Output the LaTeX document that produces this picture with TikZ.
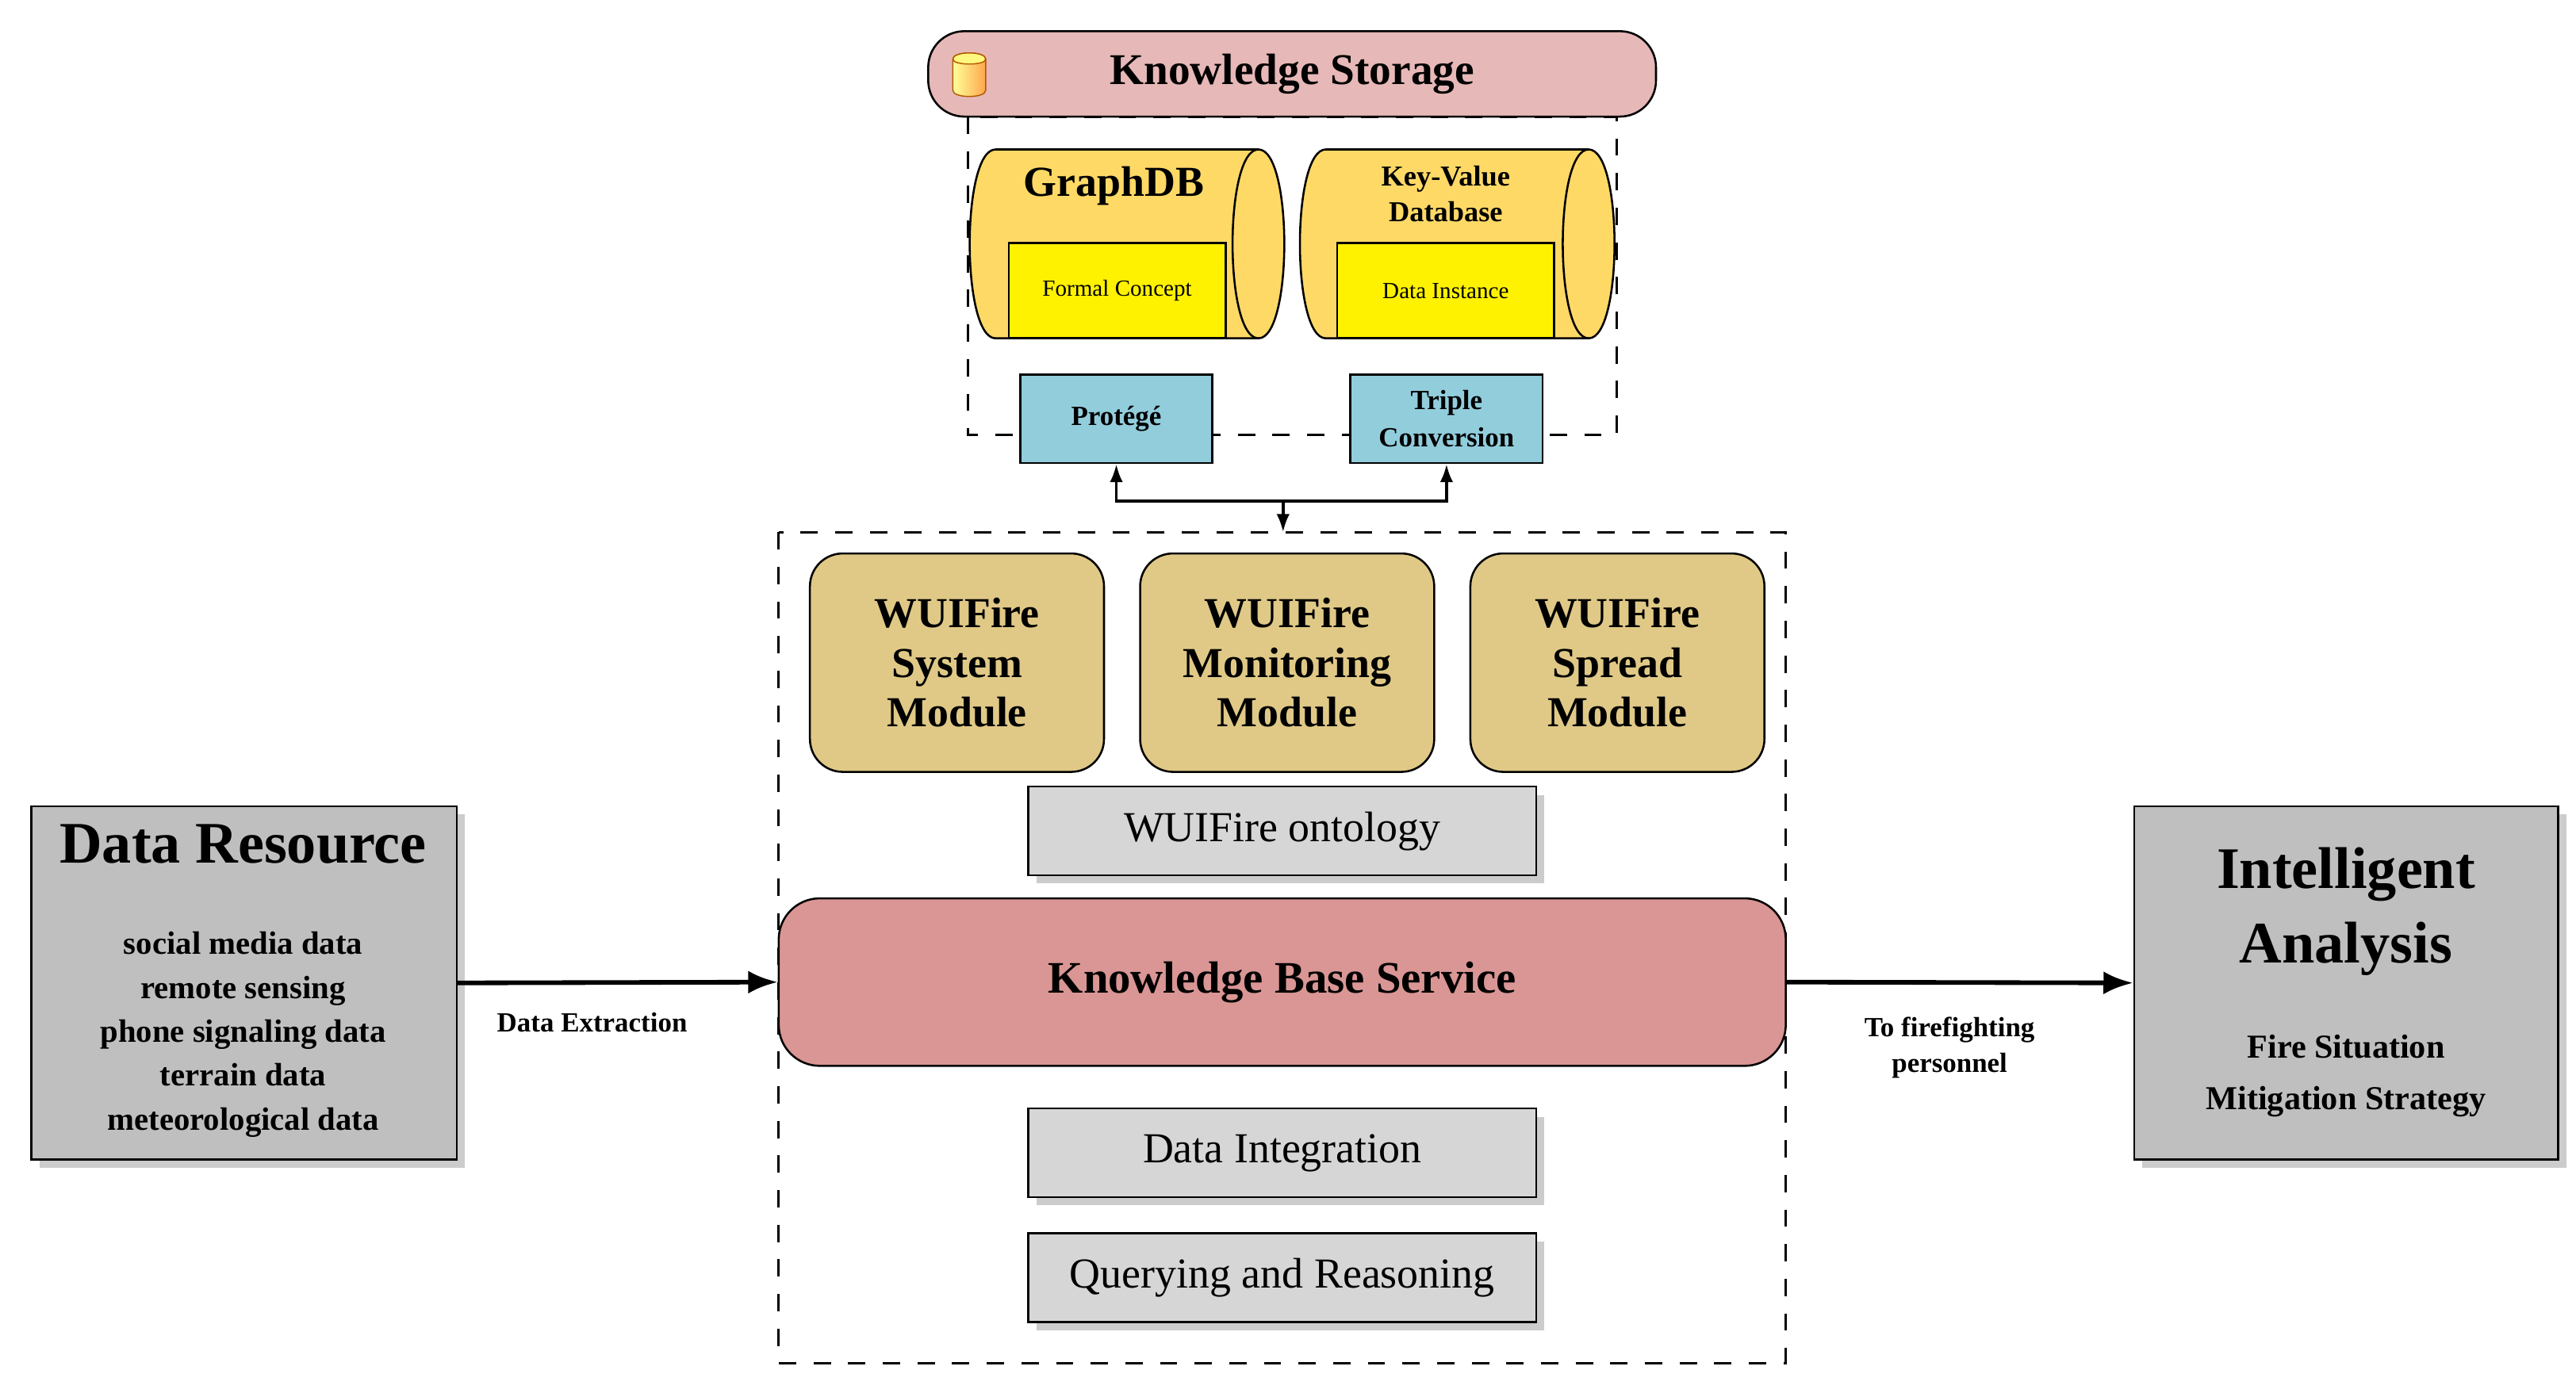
\documentclass[tikz,border=0pt]{standalone}
\usepackage{fontspec}
\setmainfont{Liberation Serif}
\usetikzlibrary{shadows,arrows.meta}
\begin{document}
\begin{tikzpicture}[x=0.1mm,y=-0.1mm,
  box/.style={draw=black,line width=0.35pt,inner sep=0pt,align=center},
  gray/.style={box,fill=black!25,drop shadow={shadow xshift=0.5mm,shadow yshift=-0.5mm,opacity=0.4}},
  module/.style={box,fill=modc,rounded corners=2mm,minimum width=17.9mm,minimum height=13.3mm,font=\fontsize{7.4pt}{8.6pt}\selectfont\bfseries},
  sub/.style={box,fill=black!16,minimum width=30.9mm,minimum height=5.4mm,font=\fontsize{7.4pt}{8pt}\selectfont,drop shadow={shadow xshift=0.5mm,shadow yshift=-0.5mm,opacity=0.4}},
  tool/.style={box,fill=toolc,minimum width=11.7mm,minimum height=5.4mm,font=\fontsize{4.8pt}{6.4pt}\selectfont\bfseries},
  cyl/.style={draw=black,line width=0.35pt,fill=dbc},
  inner/.style={box,fill=yellow,minimum width=13.2mm,minimum height=5.8mm,font=\fontsize{4pt}{5pt}\selectfont},
  arr/.style={-{Latex[length=1.8mm,width=1.4mm]},line width=0.8pt},
  sarr/.style={-{Latex[length=1.1mm,width=0.8mm]},line width=0.5pt}]
\definecolor{modc}{HTML}{E0C987}
\definecolor{toolc}{HTML}{92CDDC}
\definecolor{dbc}{HTML}{FFD966}
\definecolor{ksc}{HTML}{E6B8B7}
\definecolor{kbc}{HTML}{D99694}
\useasboundingbox (0,0) rectangle (1568,848);
% knowledge storage
\draw[dashed,line width=0.4pt] (589,71) rectangle (984,265);
\node[box,fill=ksc,rounded corners=2.2mm,minimum width=44.3mm,minimum height=5.2mm,font=\fontsize{7.6pt}{9pt}\selectfont\bfseries] (ks) at (786.5,45) {Knowledge Storage};
% icon
\path[draw=orange!70!black,line width=0.2pt,top color=yellow!40,bottom color=orange!70,shading angle=90]
  (580,36) -- (580,55) .. controls (580,60) and (600,60) .. (600,55) -- (600,36) .. controls (600,31) and (580,31) .. (580,36) -- cycle;
\draw[orange!70!black,line width=0.2pt,fill=yellow!50] (580,36) .. controls (580,40) and (600,40) .. (600,36) .. controls (600,31) and (580,31) .. (580,36);
% cylinders
\foreach \xo/\nm in {0/g,201/k}{
  \begin{scope}[xshift=\xo*0.1mm]
  \path[cyl] (606,91) -- (766,91) .. controls (787,91) and (787,206) .. (766,206) -- (606,206) .. controls (585,206) and (585,91) .. (606,91) -- cycle;
  \draw[line width=0.35pt] (766,91) .. controls (745,91) and (745,206) .. (766,206);
  \end{scope}}
\node[font=\fontsize{7.4pt}{8pt}\selectfont\bfseries] (gt) at (678,113) {GraphDB};
\node[font=\fontsize{5pt}{6.2pt}\selectfont\bfseries,align=center] (kt) at (880,118) {Key-Value\\Database};
\node[inner] (fc) at (680,177) {Formal Concept};
\node[inner] (di) at (880,177) {Data Instance};
\node[tool] (pr) at (679.5,255) {Protégé};
\node[tool] (tc) at (880.5,255) {Triple\\Conversion};
% middle
\draw[dashed,line width=0.4pt] (474,324) rectangle (1087,830);
\coordinate (j) at (781,305);
\coordinate (mt) at (781,324);
\draw[sarr] (j) -- (j -| pr.south) -- (pr.south);
\draw[sarr] (j) -- (j -| tc.south) -- (tc.south);
\draw[sarr] (j) -- (mt);
\node[module] (m1) at (582.5,403.5) {WUIFire\\System\\Module};
\node[module] (m2) at (783.5,403.5) {WUIFire\\Monitoring\\Module};
\node[module] (m3) at (984.5,403.5) {WUIFire\\Spread\\Module};
\node[sub] (on) at (780.5,506) {WUIFire ontology};
\node[box,fill=kbc,rounded corners=2.5mm,minimum width=61.3mm,minimum height=10.2mm,font=\fontsize{7.8pt}{9pt}\selectfont\bfseries] (kb) at (780.5,598) {Knowledge Base Service};
\node[sub] (dint) at (780.5,702) {Data Integration};
\node[sub] (qr) at (780.5,778) {Querying and Reasoning};
% sides
\node[gray,minimum width=25.9mm,minimum height=21.5mm] (dr) at (148.5,598.5) {};
\node[font=\fontsize{10.2pt}{12pt}\selectfont\bfseries] (drt) at (148,514) {Data Resource};
\node[font=\fontsize{5.6pt}{7.6pt}\selectfont\bfseries,align=center] (drl) at (148,630) {social media data\\remote sensing\\phone signaling data\\terrain data\\meteorological data};
\node[gray,minimum width=25.8mm,minimum height=21.5mm] (ia) at (1428,598.5) {};
\node[font=\fontsize{10.2pt}{13pt}\selectfont\bfseries,align=center] (iat) at (1428,555) {Intelligent\\Analysis};
\node[font=\fontsize{5.8pt}{9pt}\selectfont\bfseries,align=center] (ial) at (1428,655) {Fire Situation\\Mitigation Strategy};
\draw[arr] (dr.east) -- (kb.west) node[pos=0.42,below=0.5mm,font=\fontsize{4.8pt}{6pt}\selectfont\bfseries] {Data Extraction};
\draw[arr] (kb.east) -- (ia.west) node[pos=0.47,below=0.8mm,font=\fontsize{4.8pt}{6.2pt}\selectfont\bfseries,align=center] {To firefighting\\personnel};
\end{tikzpicture}
\end{document}
